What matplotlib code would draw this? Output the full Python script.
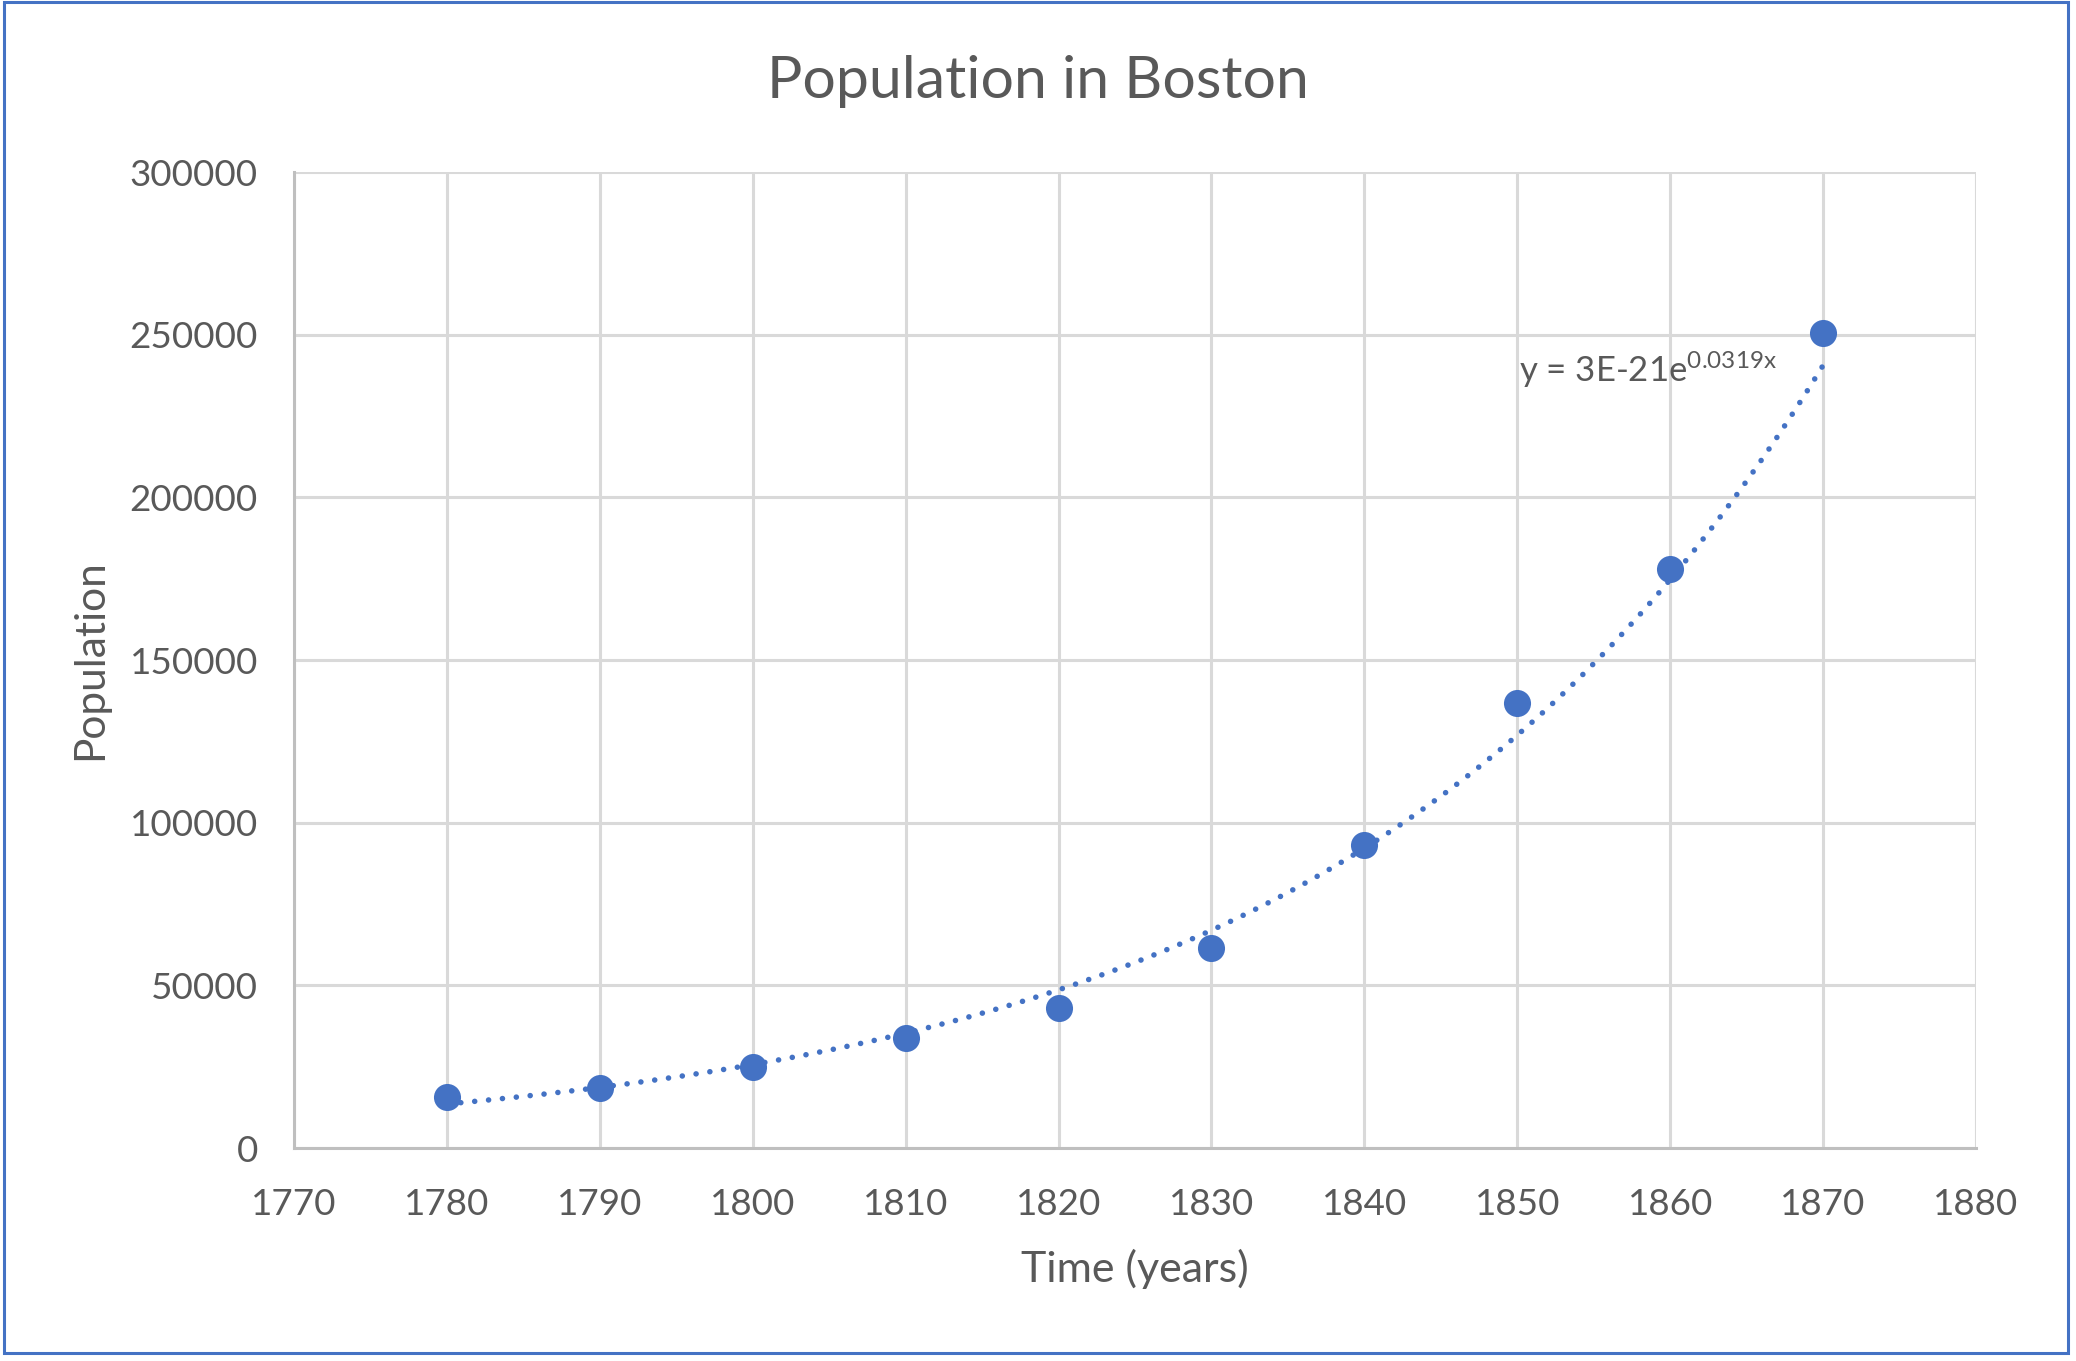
import numpy as np
import matplotlib
matplotlib.use("Agg")
import matplotlib.pyplot as plt
from matplotlib.patches import Rectangle

# ---- data ----
years = [1780, 1790, 1800, 1810, 1820, 1830, 1840, 1850, 1860, 1870]
population = [15700, 18300, 24900, 33800, 43100, 61500, 93200, 136800, 178000, 250600]
x_ticks = [1770, 1780, 1790, 1800, 1810, 1820, 1830, 1840, 1850, 1860, 1870, 1880]
y_ticks = [0, 50000, 100000, 150000, 200000, 250000, 300000]
title = "Population in Boston"
x_label = "Time (years)"
y_label = "Population"
equation = r"y = 3E-21e$^{0.0319x}$"

BLUE = "#4472C4"
TEXT = "#595959"
GRID = "#D9D9D9"
AXIS = "#BFBFBF"

plt.rcParams["font.family"] = ["Lato", "DejaVu Sans"]
plt.rcParams["mathtext.fontset"] = "custom"
plt.rcParams["mathtext.rm"] = "Lato"
plt.rcParams["mathtext.default"] = "regular"

W, H = 2076, 1361
fig = plt.figure(figsize=(W / 100, H / 100), dpi=100)
ax = fig.add_axes([294 / W, 1 - 1148 / H, (1976 - 294) / W, (1148 - 172) / H])

# exponential trendline (least squares on log, like Excel)
xs = np.array(years, dtype=float)
ys = np.array(population, dtype=float)
b, lna = np.polyfit(xs, np.log(ys), 1)
xt = np.linspace(xs.min(), xs.max(), 300)
yt = np.exp(lna) * np.exp(b * xt)
ax.plot(xt, yt, color=BLUE, linewidth=4.0, dashes=[0.01, 2.5],
        dash_capstyle="round", solid_capstyle="round", zorder=3)

ax.plot(years, population, linestyle="none", marker="o", markersize=19.5,
        markerfacecolor=BLUE, markeredgecolor=BLUE, markeredgewidth=0, zorder=4)

ax.set_xlim(x_ticks[0], x_ticks[-1])
ax.set_ylim(y_ticks[0], y_ticks[-1])
ax.set_xticks(x_ticks)
ax.set_yticks(y_ticks)
ax.set_xticklabels([str(t) for t in x_ticks])
ax.set_yticklabels([str(t) for t in y_ticks])

ax.grid(True, color=GRID, linewidth=2.2, zorder=0)
ax.set_axisbelow(True)
for s in ["top", "right"]:
    ax.spines[s].set_visible(False)
for s in ["left", "bottom"]:
    ax.spines[s].set_color(AXIS)
    ax.spines[s].set_linewidth(2.2)
    ax.spines[s].set_zorder(1)
ax.tick_params(axis="both", length=0, labelsize=26.5, labelcolor=TEXT)
ax.tick_params(axis="x", pad=29)
ax.tick_params(axis="y", pad=26)

ax.set_xlabel(x_label, fontsize=31, color=TEXT, labelpad=20)
ax.set_ylabel(y_label, fontsize=30.5, color=TEXT, labelpad=15)

fig.text(0.5, 1 - 98 / H, title, ha="center", va="baseline", fontsize=42.5, color=TEXT)

ax.text(1850.1, 235500, equation, ha="left", va="baseline", fontsize=25, color=TEXT, zorder=5)

fig.patches.append(Rectangle((4.5 / W, 1 - 1353 / H), (2068 - 4.5) / W, (1353 - 2) / H,
                             transform=fig.transFigure, fill=False,
                             edgecolor=BLUE, linewidth=2.2, zorder=10))

fig.savefig("out.png", dpi=100, facecolor="white")
